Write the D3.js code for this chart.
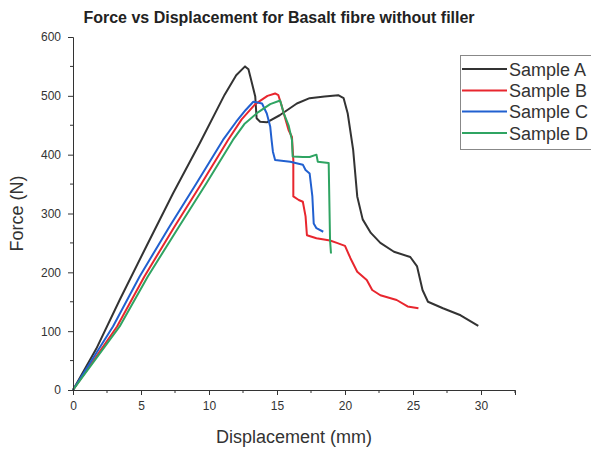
<!DOCTYPE html>
<html>
<head>
<meta charset="utf-8">
<script src="https://cdn.jsdelivr.net/npm/d3@7"></script>
<style>
  html, body { margin: 0; padding: 0; background: #fff; }
  svg { display: block; font-family: "Liberation Sans", Arial, sans-serif; }
</style>
</head>
<body>
<svg id="chart" width="591" height="450"></svg>
<script>
// Force–displacement readings (displacement in mm, force in N)
const sampleNames = ["Sample A", "Sample B", "Sample C", "Sample D"];
const sampleColors = ["#333333", "#e8262e", "#2160d0", "#2fa462"];

const dispA = [0, 1.71, 3.43, 5.39, 7.35, 9.31, 11.15, 12.0, 12.65, 12.9, 13.1, 13.4, 13.5, 13.76, 14.25, 15.2, 16.46, 17.4, 18.5, 19.5, 19.9, 20.2, 20.6, 20.9, 21.3, 21.9, 22.6, 23.6, 24.8, 25.3, 25.7, 26.1, 27.2, 28.5, 29.8];
const forceA = [0, 70, 153, 244, 334, 419, 502, 535, 550, 545, 527, 499, 462, 456, 455, 467, 487, 496, 499, 501, 496, 470, 408, 329, 290, 267, 250, 235, 226, 210, 170, 150, 139, 127, 109];

const dispB = [0, 3.24, 5.25, 7.47, 9.45, 11.4, 12.4, 13.4, 14.3, 14.86, 15.1, 15.36, 15.6, 15.85, 16.1, 16.2, 16.2, 16.6, 16.9, 17.1, 17.2, 17.9, 18.9, 19.4, 20.0, 20.4, 20.9, 21.6, 22.0, 22.6, 23.8, 24.6, 25.4];
const forceB = [0, 108, 193, 278, 351, 425, 460, 486, 500, 504, 501, 482, 462, 442, 430, 391, 329, 323, 320, 295, 263, 258, 254, 250, 245, 224, 201, 187, 170, 161, 153, 142, 139];

const dispC = [0, 2.94, 4.9, 7.1, 9.07, 11.03, 12.0, 12.7, 13.26, 13.9, 14.25, 14.5, 14.6, 14.7, 14.86, 15.97, 16.9, 17.1, 17.4, 17.6, 17.7, 17.9, 18.4];
const forceC = [0, 108, 193, 278, 351, 425, 456, 476, 490, 487, 470, 448, 425, 405, 391, 388, 383, 374, 368, 329, 283, 275, 269];

const dispD = [0, 3.43, 5.5, 7.8, 9.8, 11.76, 12.6, 13.6, 14.5, 15.23, 15.5, 15.85, 16.1, 16.15, 16.9, 17.4, 17.9, 18.0, 18.8, 18.9, 18.97];
const forceD = [0, 108, 193, 278, 351, 425, 452, 472, 486, 492, 470, 450, 425, 397, 396, 396, 400, 388, 386, 255, 232];

const xMajorTicks = [0, 5, 10, 15, 20, 25, 30];
const xMinorTicks = [2.5, 7.5, 12.5, 17.5, 22.5, 27.5, 32.5];
const yMajorTicks = [0, 100, 200, 300, 400, 500, 600];
const yMinorTicks = [50, 150, 250, 350, 450, 550];

const series = [
  { name: sampleNames[0], color: sampleColors[0], x: dispA, y: forceA },
  { name: sampleNames[1], color: sampleColors[1], x: dispB, y: forceB },
  { name: sampleNames[2], color: sampleColors[2], x: dispC, y: forceC },
  { name: sampleNames[3], color: sampleColors[3], x: dispD, y: forceD }
];

const svg = d3.select("#chart");
const plotLeft = 73, plotRight = 515, plotTop = 37, plotBottom = 390;

const x = d3.scaleLinear().domain([0, 32.5]).range([plotLeft, plotRight]);
const y = d3.scaleLinear().domain([0, 600]).range([plotBottom, plotTop]);

const axisColor = "#333";

// Title
svg.append("text")
  .attr("x", 279).attr("y", 22.5)
  .attr("text-anchor", "middle")
  .attr("font-size", 16).attr("font-weight", "bold")
  .attr("fill", "#222")
  .text("Force vs Displacement for Basalt fibre without filler");

// Curves
const line = d3.line().x(d => x(d[0])).y(d => y(d[1]));
series.forEach(s => {
  const pts = s.x.map((v, i) => [v, s.y[i]]);
  svg.append("path")
    .datum(pts)
    .attr("d", line)
    .attr("fill", "none")
    .attr("stroke", s.color)
    .attr("stroke-width", 2)
    .attr("stroke-linejoin", "round");
});

// X axis
const xAxis = svg.append("g").attr("transform", `translate(0,${plotBottom})`);
xAxis.call(d3.axisBottom(x).tickValues(xMajorTicks).tickSize(5).tickPadding(6).tickFormat(d3.format("d")));
xAxis.append("g").selectAll("line").data(xMinorTicks).join("line")
  .attr("x1", d => x(d)).attr("x2", d => x(d))
  .attr("y1", 0).attr("y2", 3);
xAxis.selectAll("line, path").attr("stroke", axisColor);
xAxis.selectAll("text").attr("font-size", 12).attr("fill", "#333")
  .attr("font-family", "Liberation Sans, Arial, sans-serif");

// Y axis
const yAxis = svg.append("g").attr("transform", `translate(${plotLeft},0)`);
yAxis.call(d3.axisLeft(y).tickValues(yMajorTicks).tickSize(5).tickPadding(7).tickFormat(d3.format("d")));
yAxis.append("g").selectAll("line").data(yMinorTicks).join("line")
  .attr("x1", 0).attr("x2", -3)
  .attr("y1", d => y(d)).attr("y2", d => y(d));
yAxis.selectAll("line, path").attr("stroke", axisColor);
yAxis.selectAll("text").attr("font-size", 12).attr("fill", "#333")
  .attr("font-family", "Liberation Sans, Arial, sans-serif");

// Axis titles
svg.append("text")
  .attr("x", (plotLeft + plotRight) / 2).attr("y", 443)
  .attr("text-anchor", "middle")
  .attr("font-size", 18).attr("fill", "#333")
  .text("Displacement (mm)");

svg.append("text")
  .attr("transform", `translate(23,${(plotTop + plotBottom) / 2}) rotate(-90)`)
  .attr("text-anchor", "middle")
  .attr("font-size", 18).attr("fill", "#333")
  .text("Force (N)");

// Legend
const legend = svg.append("g");
legend.append("rect")
  .attr("x", 460.5).attr("y", 55.5)
  .attr("width", 140).attr("height", 94)
  .attr("fill", "#fff").attr("stroke", "#888");
const rowY = [69, 90.5, 111.5, 133];
series.forEach((s, i) => {
  legend.append("line")
    .attr("x1", 462).attr("x2", 507)
    .attr("y1", rowY[i]).attr("y2", rowY[i])
    .attr("stroke", s.color).attr("stroke-width", 2);
  legend.append("text")
    .attr("x", 509).attr("y", rowY[i] + 6.5)
    .attr("font-size", 18).attr("fill", "#333")
    .text(s.name);
});
</script>
</body>
</html>
